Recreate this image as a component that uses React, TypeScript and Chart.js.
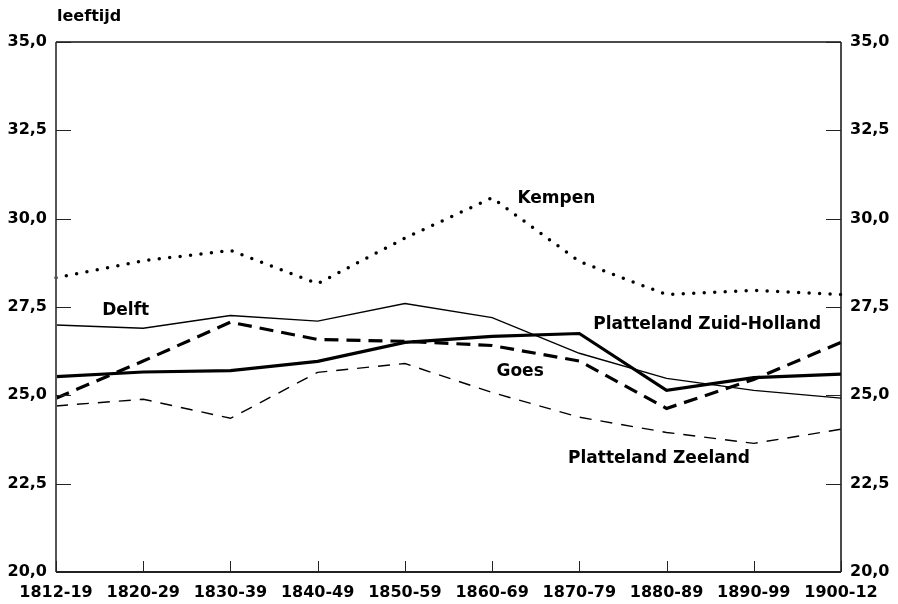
import React, { useEffect, useRef } from "react";
import { Chart, registerables } from "chart.js";

Chart.register(...registerables);

// ---- data ----
const periods = ["1812-19", "1820-29", "1830-39", "1840-49", "1850-59", "1860-69", "1870-79", "1880-89", "1890-99", "1900-12"];
const kempen = [28.33, 28.81, 29.1, 28.16, 29.45, 30.59, 28.79, 27.85, 27.97, 27.85];
const delft = [26.99, 26.9, 27.26, 27.1, 27.6, 27.2, 26.19, 25.48, 25.14, 24.92];
const plattelandZuidHolland = [25.53, 25.66, 25.7, 25.96, 26.5, 26.67, 26.75, 25.14, 25.5, 25.6];
const goes = [24.92, 25.97, 27.07, 26.58, 26.53, 26.41, 25.97, 24.63, 25.45, 26.5];
const plattelandZeeland = [24.7, 24.89, 24.35, 25.65, 25.9, 25.08, 24.38, 23.95, 23.64, 24.04];
const yMin = 20;
const yMax = 35;
const yStep = 2.5;
const yAxisTitle = "leeftijd";

// in-chart series labels (anchored in data coordinates: category index, value)
const seriesNames = ["Kempen", "Delft", "Platteland Zuid-Holland", "Goes", "Platteland Zeeland"];
const nameAtIndex = [5.29, 0.53, 6.16, 5.05, 5.87];
const nameAtValue = [30.56, 27.41, 26.99, 25.66, 23.2];

const FONT = "'DejaVu Sans', Verdana, sans-serif";

const fmt = (v: number) => v.toFixed(1).replace(".", ",");

const decorPlugin = {
  id: "decor",
  afterDraw(chart: any) {
    const { ctx, chartArea } = chart;
    const { left, right, top, bottom } = chartArea;
    const xs = chart.scales.x;
    const yl = chart.scales.y;
    ctx.save();
    // frame
    ctx.lineCap = "butt";
    ctx.strokeStyle = "#111";
    ctx.lineWidth = 1.5;
    ctx.beginPath();
    ctx.moveTo(left, top);
    ctx.lineTo(right, top);
    ctx.moveTo(right, top);
    ctx.lineTo(right, bottom);
    ctx.stroke();
    ctx.lineWidth = 2;
    ctx.strokeStyle = "#222";
    ctx.beginPath();
    ctx.moveTo(left, bottom);
    ctx.lineTo(right, bottom);
    ctx.stroke();
    ctx.strokeStyle = "#555";
    ctx.beginPath();
    ctx.moveTo(left, top);
    ctx.lineTo(left, bottom);
    ctx.stroke();
    // inward tick marks
    ctx.lineWidth = 1;
    ctx.strokeStyle = "#222";
    ctx.beginPath();
    yl.ticks.forEach((t: any) => {
      const py = Math.round(yl.getPixelForValue(t.value)) + 0.5;
      ctx.moveTo(left, py);
      ctx.lineTo(left + 15, py);
      ctx.moveTo(right, py);
      ctx.lineTo(right - 15, py);
    });
    xs.ticks.forEach((_t: any, i: number) => {
      const px = Math.round(xs.getPixelForValue(i)) + 0.5;
      ctx.moveTo(px, bottom);
      ctx.lineTo(px, bottom - 11);
    });
    ctx.stroke();
    // axis title
    ctx.fillStyle = "#000";
    ctx.font = `bold 16px ${FONT}`;
    ctx.textAlign = "left";
    ctx.textBaseline = "alphabetic";
    ctx.fillText(yAxisTitle, left + 1, top - 21);
    // series names
    ctx.font = `bold 17px ${FONT}`;
    ctx.textBaseline = "middle";
    seriesNames.forEach((name, i) => {
      const px = xs.getPixelForValue(nameAtIndex[i]);
      const py = yl.getPixelForValue(nameAtValue[i]);
      ctx.fillText(name, px, py);
    });
    ctx.restore();
  },
};

export default function App() {
  const canvasRef = useRef<HTMLCanvasElement | null>(null);

  useEffect(() => {
    if (!canvasRef.current) return;
    const base = { pointRadius: 0, pointHoverRadius: 0, tension: 0, fill: false, borderColor: "#000", backgroundColor: "#000" };
    const tickFont = { family: FONT, size: 16, weight: "bold" };
    const chart = new Chart(canvasRef.current, {
      type: "line",
      data: {
        labels: periods,
        datasets: [
          { ...base, label: "Kempen", data: kempen, borderWidth: 3.5, borderDash: [0, 10.5], borderCapStyle: "round" },
          { ...base, label: "Delft", data: delft, borderWidth: 1.4 },
          { ...base, label: "Platteland Zuid-Holland", data: plattelandZuidHolland, borderWidth: 3.2 },
          { ...base, label: "Goes", data: goes, borderWidth: 3.2, borderDash: [14, 8] },
          { ...base, label: "Platteland Zeeland", data: plattelandZeeland, borderWidth: 1.4, borderDash: [12, 9] },
        ] as any,
      },
      options: {
        animation: false,
        responsive: true,
        maintainAspectRatio: false,
        events: [],
        layout: { padding: { top: 42, left: 0, right: 0, bottom: 0 } },
        plugins: { legend: { display: false }, tooltip: { enabled: false }, title: { display: false } },
        scales: {
          x: {
            type: "category",
            offset: false,
            grid: { display: false, drawTicks: false },
            border: { display: false },
            ticks: { color: "#000", font: tickFont, padding: 11, maxRotation: 0, autoSkip: false },
            afterFit: (s: any) => { s.height = 32; },
          },
          y: {
            position: "left",
            min: yMin,
            max: yMax,
            grid: { display: false, drawTicks: false },
            border: { display: false },
            ticks: { stepSize: yStep, color: "#000", font: tickFont, padding: 9, callback: (v: any) => fmt(Number(v)) },
            afterFit: (s: any) => { s.width = 56; },
          },
          y2: {
            position: "right",
            min: yMin,
            max: yMax,
            grid: { display: false, drawTicks: false },
            border: { display: false },
            ticks: { stepSize: yStep, color: "#000", font: tickFont, padding: 9, callback: (v: any) => fmt(Number(v)) },
            afterFit: (s: any) => { s.width = 57; },
          },
        },
      } as any,
      plugins: [decorPlugin],
    });
    return () => chart.destroy();
  }, []);

  return (
    <div style={{ position: "absolute", left: 0, top: 0, width: 898, height: 604, background: "#fff" }}>
      <canvas ref={canvasRef} />
    </div>
  );
}
